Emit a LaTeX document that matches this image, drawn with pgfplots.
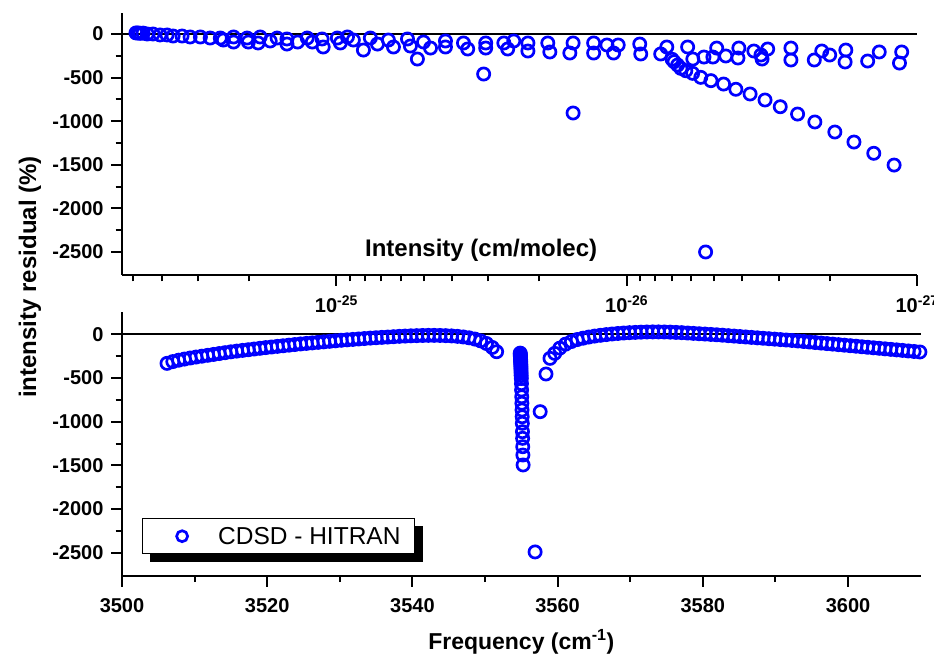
\documentclass[border=0pt]{standalone}
\usepackage{fontspec}
\setmainfont{Liberation Sans}
\usepackage{pgfplots}
\pgfplotsset{compat=1.18}
\usetikzlibrary{backgrounds}
\definecolor{pblue}{RGB}{0,0,255}
\pgfplotsset{
 panel/.style={
  scale only axis,
  axis x line*=bottom, axis y line*=left,
  tick align=outside,
  axis line style={line width=2.4pt},
  every tick/.style={black, line width=2pt},
  major tick length=11pt, minor tick length=6.5pt,
  tick label style={font=\fontsize{20}{22}\selectfont\bfseries},
  yticklabel style={xshift=-4pt},
  ytick={-2500,-2000,-1500,-1000,-500,0},
  yticklabels={-2500,-2000,-1500,-1000,-500,0},
  minor y tick num=1,
  clip=false,
 },
 circ/.style={only marks, mark=o, mark size=6.1pt, line width=2.7pt,
   every mark/.append style={line width=2.7pt, draw=pblue}, color=pblue},
}
\begin{document}
\begin{tikzpicture}
\useasboundingbox (0,0) rectangle (934pt,659pt);
% ---------------- top panel: residual vs intensity
\begin{axis}[panel, at={(122pt,384pt)}, anchor=south west, width=795pt, height=262pt,
 xmode=log, x dir=reverse, xmin=1e-27, xmax=5.47e-25, ymin=-2764, ymax=241,
 xtick={1e-25,1e-26,1e-27},
 xticklabels={10\textsuperscript{-25},10\textsuperscript{-26},10\textsuperscript{-27}},
 xticklabel style={yshift=-6pt},
 minor xtick={2e-27,3e-27,4e-27,5e-27,6e-27,7e-27,8e-27,9e-27,2e-26,3e-26,4e-26,5e-26,6e-26,7e-26,8e-26,9e-26,2e-25,3e-25,4e-25,5e-25},
 xlabel={Intensity (cm/molec)},
 xlabel style={at={(axis description cs:0.4516,0)}, anchor=base, yshift=18pt, font=\fontsize{24}{26}\selectfont\bfseries},
]
\addplot[black, line width=2pt, forget plot] coordinates {(5.47e-25,0) (1e-27,0)};
\addplot[circ] coordinates {
(4.90e-25,12) (4.82e-25,12) (4.74e-25,8) (4.63e-25,10) (4.48e-25,0) (4.28e-25,0) (4.05e-25,-11)
(3.83e-25,-11) (3.65e-25,-23) (3.40e-25,-23) (3.19e-25,-34) (2.94e-25,-34) (2.72e-25,-46)
(2.51e-25,-46) (2.45e-25,-69) (2.26e-25,-34) (2.26e-25,-92) (2.03e-25,-46) (2.01e-25,-92)
(1.83e-25,-34) (1.86e-25,-103) (1.69e-25,-80) (1.60e-25,-46) (1.48e-25,-57) (1.48e-25,-115)
(1.36e-25,-92) (1.26e-25,-46) (1.21e-25,-92) (1.12e-25,-57) (1.11e-25,-149) (9.92e-26,-46)
(9.69e-26,-103) (9.16e-26,-34) (8.74e-26,-69) (8.07e-26,-184) (7.64e-26,-46) (7.22e-26,-115)
(6.62e-26,-69) (6.36e-26,-149) (5.69e-26,-57) (5.56e-26,-138) (5.26e-26,-287) (5.01e-26,-92)
(4.74e-26,-161) (4.21e-26,-80) (4.21e-26,-149) (3.65e-26,-103) (3.53e-26,-172) (3.11e-26,-459)
(3.06e-26,-103) (3.06e-26,-161) (2.65e-26,-103) (2.57e-26,-172) (2.45e-26,-80) (2.19e-26,-103)
(2.19e-26,-195) (1.87e-26,-103) (1.84e-26,-206) (1.53e-26,-103) (1.57e-26,-218) (1.53e-26,-906)
(1.30e-26,-103) (1.30e-26,-218) (1.17e-26,-126) (1.11e-26,-218) (1.07e-26,-126) (9.02e-27,-115)
(8.95e-27,-229) (7.64e-27,-229) (7.28e-27,-149) (6.17e-27,-149) (5.92e-27,-287) (5.42e-27,-264)
(5.35e-27,-2500) (5.05e-27,-264) (4.90e-27,-161) (4.56e-27,-252) (4.11e-27,-161) (4.14e-27,-275)
(3.65e-27,-195) (3.45e-27,-241) (3.42e-27,-287) (3.27e-27,-172) (2.72e-27,-161) (2.72e-27,-298)
(2.26e-27,-298) (2.13e-27,-195) (2.00e-27,-241) (1.76e-27,-184) (1.77e-27,-321) (1.48e-27,-310)
(1.35e-27,-206) (1.15e-27,-333) (1.13e-27,-206)
(6.98e-27,-290) (6.87e-27,-318) (6.68e-27,-356) (6.51e-27,-394) (6.26e-27,-421) (5.93e-27,-451)
(5.56e-27,-497) (5.13e-27,-535) (4.64e-27,-574) (4.21e-27,-634) (3.76e-27,-688) (3.34e-27,-757)
(2.96e-27,-834) (2.58e-27,-918) (2.25e-27,-1009) (1.92e-27,-1124) (1.65e-27,-1239) (1.41e-27,-1368)
(1.20e-27,-1503)
};
\end{axis}
% ---------------- bottom panel: residual vs frequency
\begin{axis}[panel, at={(122pt,83.3pt)}, anchor=south west, width=798.6pt, height=264pt,
 xmin=3500, xmax=3610, ymin=-2762, ymax=259,
 xtick={3500,3520,3540,3560,3580,3600},
 xticklabels={3500,3520,3540,3560,3580,3600},
 xticklabel style={yshift=-8pt},
 minor x tick num=1,
 xlabel={Frequency (cm\textsuperscript{-1})},
 xlabel style={at={(axis description cs:0.5,0)}, anchor=base, yshift=-74pt, font=\fontsize{23}{25}\selectfont\bfseries},
 legend style={name=leg, at={(axis description cs:0.0247,0.2174)}, anchor=north west,
   draw=black, line width=0.8pt, fill=white, inner xsep=0pt, inner ysep=0pt,
   column sep=0pt, nodes={inner sep=0pt},
   font=\fontsize{24.5}{26}\selectfont},
 legend image code/.code={\path[draw=none,fill=none] (0pt,-17.5pt) rectangle (76pt,17.5pt);
   \draw[#1, mark size=5.5pt] plot coordinates {(40pt,0pt)};},
]
\addplot[black, line width=2pt, forget plot] coordinates {(3500,0) (3610,0)};
\addplot[circ] coordinates {
(3506.2,-332) (3507.0,-312) (3507.8,-296) (3508.6,-283) (3509.4,-271) (3510.2,-260) (3511.0,-250)
(3511.8,-240) (3512.6,-230) (3513.4,-220) (3514.2,-210) (3515.0,-200) (3515.8,-192) (3516.6,-184)
(3517.4,-176) (3518.2,-168) (3519.0,-160) (3519.8,-152) (3520.6,-145) (3521.4,-138) (3522.2,-131)
(3523.0,-124) (3523.8,-117) (3524.6,-110) (3525.4,-104) (3526.2,-98) (3527.0,-92) (3527.8,-86)
(3528.6,-80) (3529.4,-74) (3530.2,-68) (3531.0,-63) (3531.8,-58) (3532.6,-53) (3533.4,-48)
(3534.2,-43) (3535.0,-39) (3535.8,-35) (3536.6,-31) (3537.4,-27) (3538.2,-23) (3539.0,-20)
(3539.8,-17) (3540.6,-15) (3541.4,-13) (3542.2,-12) (3543.0,-12) (3543.8,-13) (3544.6,-15)
(3545.4,-18) (3546.2,-23) (3547.0,-30) (3547.8,-40) (3548.6,-54) (3549.4,-75) (3550.2,-105)
(3551.0,-150) (3551.6,-199)
(3554.85,-215) (3554.86,-228) (3554.87,-242) (3554.88,-256) (3554.89,-271) (3554.90,-287)
(3554.91,-304) (3554.92,-322) (3554.93,-342) (3554.94,-364) (3554.95,-388) (3554.96,-414)
(3554.97,-442) (3554.98,-472) (3555.00,-505) (3555.02,-564) (3555.04,-637) (3555.06,-714)
(3555.08,-789) (3555.10,-866) (3555.12,-943) (3555.14,-1018) (3555.16,-1114) (3555.18,-1190)
(3555.20,-1286) (3555.22,-1381) (3555.25,-1495)
(3556.9,-2490) (3557.6,-885) (3558.4,-454)
(3558.95,-275) (3559.6,-218) (3560.3,-158) (3561.1,-112) (3561.9,-82) (3562.7,-60) (3563.5,-44)
(3564.3,-31) (3565.1,-20) (3565.9,-11) (3566.7,-3) (3567.5,4) (3568.3,10) (3569.1,15) (3569.9,19)
(3570.7,22) (3571.5,25) (3572.3,27) (3573.1,28) (3573.9,28) (3574.7,27) (3575.5,25) (3576.3,22)
(3577.1,19) (3577.9,15) (3578.7,11) (3579.5,7) (3580.3,3) (3581.1,-1) (3581.9,-5) (3582.7,-10)
(3583.5,-15) (3584.3,-20) (3585.1,-25) (3585.9,-30) (3586.7,-35) (3587.5,-40) (3588.3,-45)
(3589.1,-50) (3589.9,-55) (3590.7,-60) (3591.5,-65) (3592.3,-70) (3593.1,-76) (3593.9,-82)
(3594.7,-88) (3595.5,-94) (3596.3,-100) (3597.1,-106) (3597.9,-112) (3598.7,-118) (3599.5,-124)
(3600.3,-130) (3601.1,-136) (3601.9,-142) (3602.7,-148) (3603.5,-154) (3604.3,-160) (3605.1,-166)
(3605.9,-172) (3606.7,-178) (3607.5,-184) (3608.3,-190) (3609.1,-196) (3609.9,-202)
};
\addlegendentry{\makebox[196pt][l]{CDSD - HITRAN}}
\end{axis}
\begin{pgfonlayer}{background}
\fill[black] ([xshift=8pt,yshift=-8pt]leg.south west) rectangle ([xshift=8pt,yshift=-8pt]leg.north east);
\end{pgfonlayer}
\node[rotate=90, font=\fontsize{24}{26}\selectfont\bfseries] at (30pt,382pt) {intensity residual (\%)};
\end{tikzpicture}
\end{document}
